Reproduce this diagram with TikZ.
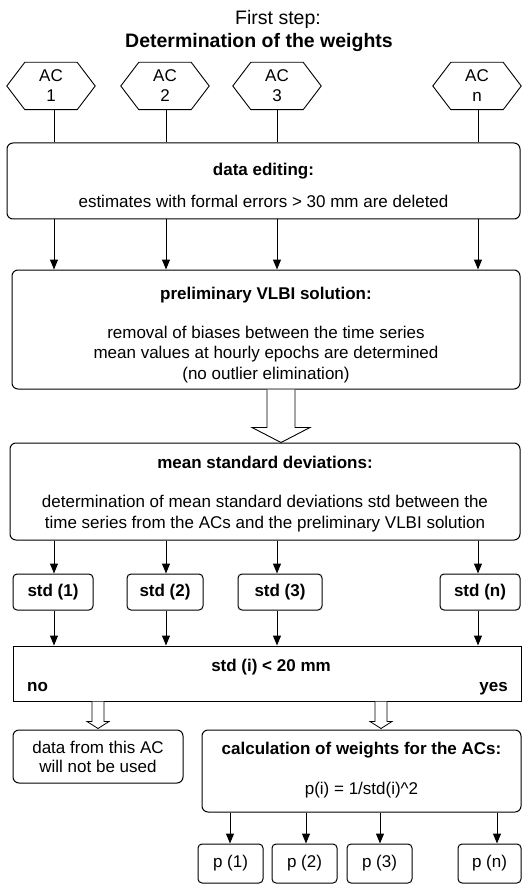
\documentclass[tikz,border=0pt]{standalone}
\usepackage{fontspec}
\setmainfont{Liberation Sans}
\usetikzlibrary{arrows.meta,calc}
\begin{document}
\begin{tikzpicture}[x=1pt,y=-1pt,
  every node/.style={font=\fontsize{17}{20.5}\selectfont, inner sep=0pt},
  box/.style={draw, line width=1pt, rounded corners=6pt},
  sqbox/.style={draw, line width=1pt},
  hexa/.style={minimum width=88pt, minimum height=47pt, align=center, font=\fontsize{17}{20}\selectfont},
  conn/.style={line width=1pt},
  arr/.style={conn, -{Triangle[width=8pt,length=10pt]}},
  hollow/.style={draw, line width=0.9pt, fill=white},
  txt/.style={anchor=base, align=center},
  bt/.style={txt, font=\fontsize{17}{20.5}\selectfont\bfseries},
]
\useasboundingbox (0,0) rectangle (522,885);
% columns
\coordinate (c1) at (54,0);
\coordinate (c2) at (166,0);
\coordinate (c3) at (277,0);
\coordinate (c4) at (478,0);
\coordinate (ha) at (281,0);
\coordinate (hl) at (98,0);
\coordinate (hr) at (381,0);
\coordinate (p1x) at (230,0);
\coordinate (p2x) at (306,0);
\coordinate (p3x) at (380,0);
\coordinate (p4x) at (497,0);

% title
\node[txt, font=\fontsize{19.5}{22}\selectfont] (ttl1) at (278,25) {First step:};
\node[txt, font=\fontsize{19.5}{22}\selectfont\bfseries] (ttl2) at (259,48) {Determination of the weights};

% hexagons
\node[hexa] (ac1) at (51,86) {AC\\1};
\node[hexa] (ac2) at (165,86) {AC\\2};
\node[hexa] (ac3) at (277,86) {AC\\3};
\node[hexa] (acn) at (477,86) {AC\\n};
\foreach \n in {ac1,ac2,ac3,acn}
  \draw[line width=0.9pt] ([xshift=18pt]\n.north west) -- ([xshift=-18pt]\n.north east) -- (\n.east)
    -- ([xshift=-18pt]\n.south east) -- ([xshift=18pt]\n.south west) -- (\n.west) -- cycle;

% data editing
\node[box, minimum width=513pt, minimum height=76pt] (edit) at (263.5,181) {};
\node[bt] (editT) at (263.5,176) {data editing:};
\node[txt] (editL) at (263.5,208) {estimates with formal errors > 30 mm are deleted};

% preliminary
\node[box, minimum width=508pt, minimum height=119pt] (prelim) at (266,329.5) {};
\node[bt] (prelimT) at (266,299) {preliminary VLBI solution:};
\node[txt] (prelimL) at (266,379) {removal of biases between the time series\\mean values at hourly epochs are determined\\(no outlier elimination)};

% mean std
\node[box, minimum width=510pt, minimum height=97pt] (mean) at (265,491.5) {};
\node[bt] (meanT) at (265,468) {mean standard deviations:};
\node[txt] (meanL) at (265,528) {determination of mean standard deviations std between the\\time series from the ACs and the preliminary VLBI solution};

% std boxes
\tikzset{stdb/.style={box, rounded corners=4pt, minimum height=36pt, font=\fontsize{17}{20}\selectfont\bfseries}}
\node[stdb, minimum width=80pt] (s1) at (53,592) {std (1)};
\node[stdb, minimum width=76pt] (s2) at (165,592) {std (2)};
\node[stdb, minimum width=84pt] (s3) at (280,592) {std (3)};
\node[stdb, minimum width=80pt] (sn) at (480,592) {std (n)};

% decision
\node[sqbox, minimum width=508pt, minimum height=55pt] (dec) at (267,673.5) {};
\node[bt] (decT) at (271,671) {std (i) < 20 mm};
\node[bt, anchor=base west] (no) at (27,691) {no};
\node[bt, anchor=base east] (yes) at (508,691) {yes};

% result boxes
\node[box, minimum width=170pt, minimum height=53pt, align=center, font=\fontsize{17}{19}\selectfont] (unused) at (98,756.5) {data from this AC\\will not be used};
\node[box, minimum width=319pt, minimum height=82pt] (calc) at (361.5,771) {};
\node[bt] (calcT) at (361.5,754) {calculation of weights for the ACs:};
\node[txt] (calcF) at (361.5,794) {p(i) = 1/std(i)\^{}2};

% p boxes
\tikzset{pb/.style={box, rounded corners=4pt, minimum height=39pt, minimum width=65pt}}
\node[pb] (p1) at (230.5,863.5) {p (1)};
\node[pb] (p2) at (304.5,863.5) {p (2)};
\node[pb] (p3) at (379.5,863.5) {p (3)};
\node[pb, minimum width=63pt] (pn) at (489.5,863.5) {p (n)};

% connectors
\foreach \c/\h in {c1/ac1,c2/ac2,c3/ac3,c4/acn}{
  \draw[conn] (\h.south -| \c) -- (edit.north -| \c);
  \draw[arr] (edit.south -| \c) -- (prelim.north -| \c);
}
\draw[arr] (mean.south -| c1) -- (s1.north -| c1);
\draw[arr] (mean.south -| c2) -- (s2.north -| c2);
\draw[arr] (mean.south -| c3) -- (s3.north -| c3);
\draw[arr] (mean.south -| c4) -- (sn.north -| c4);
\draw[arr] (s1.south -| c1) -- (dec.north -| c1);
\draw[arr] (s2.south -| c2) -- (dec.north -| c2);
\draw[arr] (s3.south -| c3) -- (dec.north -| c3);
\draw[arr] (sn.south -| c4) -- (dec.north -| c4);
\draw[arr] (calc.south -| p1x) -- (p1.north -| p1x);
\draw[arr] (calc.south -| p2x) -- (p2.north -| p2x);
\draw[arr] (calc.south -| p3x) -- (p3.north -| p3x);
\draw[arr] (calc.south -| p4x) -- (pn.north -| p4x);

% big hollow arrow
\draw[hollow] ($(prelim.south -| ha)+(-14,0)$) -- ($(mean.north -| ha)+(-14,-15)$) -- ($(mean.north -| ha)+(-29,-15)$)
  -- (mean.north -| ha) -- ($(mean.north -| ha)+(29,-15)$) -- ($(mean.north -| ha)+(14,-15)$) -- ($(prelim.south -| ha)+(14,0)$);
% small hollow arrows
\foreach \x/\t in {hl/unused,hr/calc}
  \draw[hollow, line width=0.8pt] ($(dec.south -| \x)+(-6,0)$) -- ($(\t.north -| \x)+(-6,-8)$) -- ($(\t.north -| \x)+(-11,-8)$)
    -- ($(\t.north -| \x)+(0,-1)$) -- ($(\t.north -| \x)+(11,-8)$) -- ($(\t.north -| \x)+(6,-8)$) -- ($(dec.south -| \x)+(6,0)$);
\end{tikzpicture}
\end{document}
